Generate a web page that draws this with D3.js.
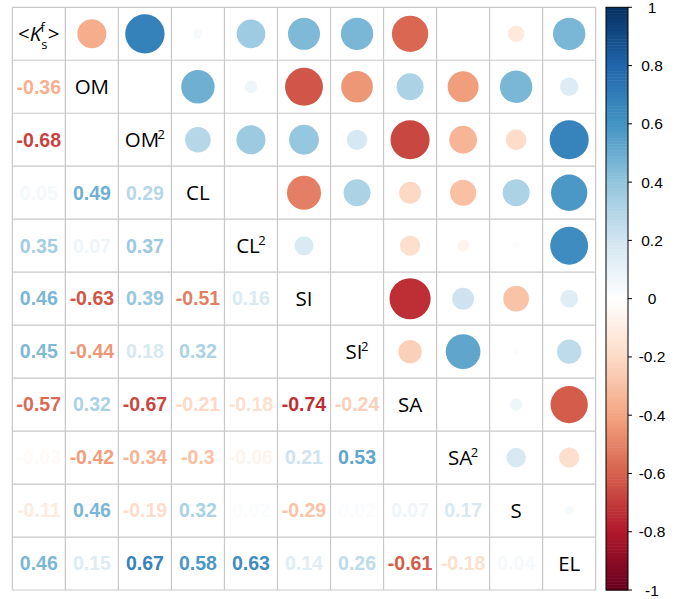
<!DOCTYPE html>
<html>
<head>
<meta charset="utf-8">
<script src="https://cdn.jsdelivr.net/npm/d3@7"></script>
<style>
  body { margin: 0; background: #fff; }
  svg { display: block; }
  .num { font-family: "Liberation Sans", Arial, sans-serif; font-weight: bold; font-size: 19.5px; }
  .lab { font-family: "Open Sans", "DejaVu Sans", sans-serif; font-size: 20.5px; fill: #000; }
  .leg { font-family: "Liberation Sans", Arial, sans-serif; font-size: 15.5px; fill: #000; }
</style>
</head>
<body>
<div id="chart"></div>
<script>
// variable names (diagonal); trailing "2" is drawn as a superscript
var vars = ["Ks", "OM", "OM2", "CL", "CL2", "SI", "SI2", "SA", "SA2", "S", "EL"];

// lower triangle, printed as numbers (row i, cols 0..i-1), null = blank
var lowerRows = [
    [],
    [-0.36],
    [-0.68, null],
    [0.05, 0.49, 0.29],
    [0.35, 0.07, 0.37, null],
    [0.46, -0.63, 0.39, -0.51, 0.16],
    [0.45, -0.44, 0.18, 0.32, null, null],
    [-0.57, 0.32, -0.67, -0.21, -0.18, -0.74, -0.24],
    [-0.03, -0.42, -0.34, -0.3, -0.06, 0.21, 0.53, null],
    [-0.11, 0.46, -0.19, 0.32, 0.02, -0.29, 0.02, 0.07, 0.17],
    [0.46, 0.15, 0.67, 0.58, 0.63, 0.14, 0.26, -0.61, -0.18, 0.04]
];

// upper triangle, drawn as circles (row i, cols i+1..10)
var upperRows = [
    [-0.37, 0.68, 0.04, 0.36, 0.45, 0.46, -0.58, 0.01, -0.12, 0.46],
    [null, 0.49, 0.07, -0.63, -0.44, 0.32, -0.42, 0.46, 0.15],
    [0.29, 0.37, 0.39, 0.18, -0.67, -0.34, -0.19, 0.67],
    [null, -0.51, 0.32, -0.21, -0.3, 0.32, 0.58],
    [0.16, null, -0.18, -0.06, 0.02, 0.63],
    [null, -0.74, 0.21, -0.29, 0.14],
    [-0.24, 0.53, 0.02, 0.26],
    [null, 0.07, -0.61],
    [0.17, -0.18],
    [0.04],
    []
];

var legendTicks = [1, 0.8, 0.6, 0.4, 0.2, 0, -0.2, -0.4, -0.6, -0.8, -1];

// corrplot RdBu palette
var palette = ["#67001F", "#B2182B", "#D6604D", "#F4A582", "#FDDBC7", "#FFFFFF",
               "#D1E5F0", "#92C5DE", "#4393C3", "#2166AC", "#053061"];

var width = 683, height = 599;
var gridLeft = 12.3, gridRight = 595.7, gridTop = 7.3, gridBottom = 590;

var svg = d3.select("#chart").append("svg")
    .attr("width", width)
    .attr("height", height);

var x = d3.scaleBand().domain(d3.range(vars.length)).range([gridLeft, gridRight]);
var y = d3.scaleBand().domain(d3.range(vars.length)).range([gridTop, gridBottom]);
var cell = x.bandwidth();

var color = d3.scaleLinear()
    .domain(palette.map(function (d, i) { return -1 + i * 0.2; }))
    .range(palette)
    .interpolate(d3.interpolateRgb);

var radius = d3.scaleSqrt().domain([0, 1]).range([0, 0.45 * cell]);

// flatten the two triangles
var lower = [], upper = [];
lowerRows.forEach(function (row, i) {
    row.forEach(function (v, j) {
        if (v !== null) lower.push({ r: i, c: j, v: v });
    });
});
upperRows.forEach(function (row, i) {
    row.forEach(function (v, k) {
        if (v !== null) upper.push({ r: i, c: i + 1 + k, v: v });
    });
});

// grid
var grid = svg.append("g");
d3.range(vars.length + 1).forEach(function (i) {
    var gx = i < vars.length ? x(i) : gridRight;
    var gy = i < vars.length ? y(i) : gridBottom;
    grid.append("line")
        .attr("x1", gx).attr("x2", gx).attr("y1", gridTop).attr("y2", gridBottom)
        .attr("stroke", "#c8c8c8").attr("stroke-width", 1.2);
    grid.append("line")
        .attr("x1", gridLeft).attr("x2", gridRight).attr("y1", gy).attr("y2", gy)
        .attr("stroke", "#c8c8c8").attr("stroke-width", 1.2);
});

// circles
svg.append("g").selectAll("circle")
    .data(upper)
    .enter().append("circle")
    .attr("cx", function (d) { return x(d.c) + cell / 2; })
    .attr("cy", function (d) { return y(d.r) + cell / 2; })
    .attr("r", function (d) { return radius(Math.abs(d.v)); })
    .style("fill", function (d) { return color(d.v); });

// numbers
svg.append("g").selectAll("text")
    .data(lower)
    .enter().append("text")
    .attr("class", "num")
    .attr("x", function (d) { return x(d.c) + cell / 2; })
    .attr("y", function (d) { return y(d.r) + cell / 2 + 6.8; })
    .attr("text-anchor", "middle")
    .style("fill", function (d) { return color(d.v); })
    .text(function (d) { return String(d.v); });

// diagonal labels
var labs = svg.append("g").selectAll("text")
    .data(vars)
    .enter().append("text")
    .attr("class", "lab")
    .attr("x", function (d, i) { return x(i) + cell / 2; })
    .attr("y", function (d, i) { return y(i) + cell / 2 + 7; })
    .attr("text-anchor", "middle");

labs.each(function (d) {
    var t = d3.select(this);
    if (d === "Ks") {
        t.append("tspan").text("<");
        t.append("tspan").style("font-style", "italic").text("K");
        t.append("tspan").attr("dx", 0).attr("dy", 8).style("font-size", "13px").text("s");
        t.append("tspan").attr("dx", -7).attr("dy", -17).style("font-size", "13px").text("f");
        t.append("tspan").attr("dx", 3).attr("dy", 9).text(">");
    } else if (d.slice(-1) === "2") {
        t.append("tspan").text(d.slice(0, -1));
        t.append("tspan").attr("dx", -1.5).attr("dy", -8).style("font-size", "13px").text("2");
    } else {
        t.text(d);
    }
});

// colour legend
var legX = 606, legW = 22;
var ly = d3.scaleLinear().domain([1, -1]).range([gridTop, gridBottom]);
var steps = d3.range(200).map(function (i) { return 1 - (i + 0.5) / 100; });
var leg = svg.append("g");
leg.selectAll("rect")
    .data(steps)
    .enter().append("rect")
    .attr("x", legX)
    .attr("y", function (d) { return ly(d + 0.005); })
    .attr("width", legW)
    .attr("height", ly(-1) - ly(-0.99) + 0.5)
    .style("fill", function (d) { return color(d); });
leg.append("rect")
    .attr("x", legX).attr("y", gridTop)
    .attr("width", legW).attr("height", gridBottom - gridTop)
    .attr("fill", "none").attr("stroke", "#000").attr("stroke-width", 1);
leg.selectAll("line")
    .data(legendTicks)
    .enter().append("line")
    .attr("x1", legX + legW).attr("x2", legX + legW + 4)
    .attr("y1", function (d) { return ly(d); })
    .attr("y2", function (d) { return ly(d); })
    .attr("stroke", "#000");
leg.selectAll("text")
    .data(legendTicks)
    .enter().append("text")
    .attr("class", "leg")
    .attr("x", 652)
    .attr("y", function (d) { return ly(d) + 5.5; })
    .attr("text-anchor", "middle")
    .text(function (d) { return d; });
</script>
</body>
</html>
